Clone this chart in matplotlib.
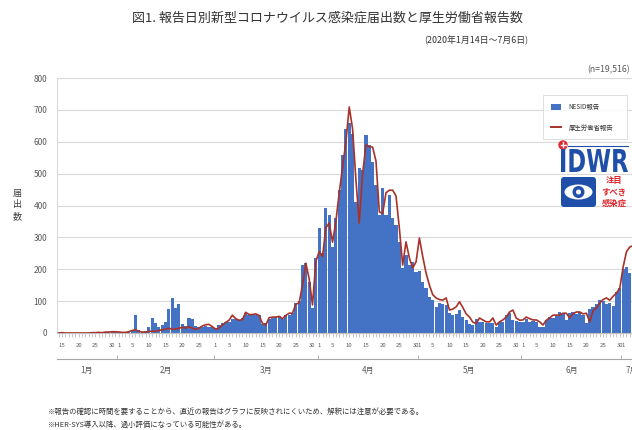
import matplotlib
matplotlib.use('Agg')
import matplotlib.pyplot as plt
import numpy as np
import pandas as pd
from matplotlib.patches import Circle, Ellipse, FancyBboxPatch, PathPatch, Rectangle
from matplotlib.textpath import TextPath
from matplotlib.font_manager import FontProperties
from matplotlib.transforms import Affine2D
from matplotlib.lines import Line2D

plt.rcParams['font.family'] = ['Noto Sans CJK JP', 'DejaVu Sans']

# ---------------- data ----------------
start_date = '2020-01-14'
end_date = '2020-07-06'

nesid_jan = [0, 1, 0, 0, 0, 0, 0, 0, 0, 0, 1, 1, 1, 0, 3, 2, 4, 3]
nesid_feb = [2, 0, 1, 3, 8, 56, 8, 3, 5, 20, 48, 30, 20, 25, 35, 75, 110, 80, 92, 28,
             22, 47, 45, 22, 20, 20, 22, 20, 18]
nesid_mar = [15, 25, 30, 35, 35, 45, 45, 40, 48, 62, 55, 60, 58, 55, 28, 30, 45, 48, 50, 52,
             45, 55, 58, 62, 95, 100, 213, 220, 160, 78, 235]
nesid_apr = [329, 250, 392, 370, 270, 360, 449, 558, 640, 660, 625, 411, 518, 511, 621, 590,
             536, 464, 370, 455, 370, 433, 360, 340, 286, 204, 244, 213, 223, 192]
nesid_may = [195, 160, 140, 113, 103, 83, 95, 90, 88, 62, 57, 60, 72, 50, 41, 28, 25, 45, 35, 35,
             30, 30, 31, 20, 35, 33, 55, 62, 40, 38, 35]
nesid_jun = [33, 45, 35, 38, 35, 20, 20, 40, 50, 48, 52, 66, 60, 40, 62, 66, 60, 66, 55, 31,
             75, 82, 90, 103, 100, 90, 95, 85, 130, 140]
nesid_jul = [200, 207, 188, 150, 90, 30]

mhlw_jan = [0, 1, 0, 0, 0, 0, 0, 0, 0, 0, 1, 1, 2, 1, 3, 3, 4, 4]
mhlw_feb = [3, 2, 2, 4, 8, 10, 5, 3, 3, 5, 6, 5, 8, 10, 12, 15, 12, 12, 15, 18,
            15, 20, 15, 12, 15, 22, 26, 27, 20]
mhlw_mar = [12, 15, 25, 33, 40, 56, 45, 40, 42, 65, 58, 58, 60, 55, 30, 25, 48, 50, 50, 52,
            45, 55, 62, 62, 90, 95, 150, 219, 170, 88, 225]
mhlw_apr = [255, 240, 330, 345, 285, 350, 440, 520, 600, 709, 640, 480, 345, 500, 590, 585,
            583, 540, 380, 375, 440, 448, 448, 430, 329, 213, 286, 235, 204, 223]
mhlw_may = [298, 240, 188, 150, 120, 110, 105, 103, 110, 72, 75, 82, 98, 80, 60, 50, 34, 30, 47, 41,
            35, 35, 47, 25, 35, 41, 50, 66, 72, 47, 40]
mhlw_jun = [41, 50, 45, 41, 41, 35, 25, 40, 47, 56, 56, 56, 62, 62, 47, 60, 66, 66, 60, 62,
            35, 70, 78, 94, 105, 110, 103, 115, 125, 141]
mhlw_jul = [207, 255, 270, 274, 206, 103]

nesid = nesid_jan + nesid_feb + nesid_mar + nesid_apr + nesid_may + nesid_jun + nesid_jul
mhlw = mhlw_jan + mhlw_feb + mhlw_mar + mhlw_apr + mhlw_may + mhlw_jun + mhlw_jul

label_days = [1, 5, 10, 15, 20, 25, 30]
month_names = ['1月', '2月', '3月', '4月', '5月', '6月', '7月']
y_ticks = [0, 100, 200, 300, 400, 500, 600, 700, 800]

title = '図1. 報告日別新型コロナウイルス感染症届出数と厚生労働省報告数'
subtitle = '(2020年1月14日～7月6日)'
n_text = '(n=19,516)'
y_label_chars = ['届', '出', '数']
legend_labels = ['NESID報告', '厚生労働省報告']
note1 = '※報告の確認に時間を要することから、直近の報告はグラフに反映されにくいため、解釈には注意が必要である。'
note2 = '※HER-SYS導入以降、過小評価になっている可能性がある。'

# ---------------- figure ----------------
W, H = 632, 430
fig = plt.figure(figsize=(W / 100, H / 100), dpi=100)
fig.patch.set_facecolor('white')

dates = pd.date_range(start_date, end_date, freq='D')
x = np.arange(len(dates))

ax_left, ax_right, ax_top, ax_bot = 57, 641.5, 78, 333
ax = fig.add_axes([ax_left / W, (H - ax_bot) / H, (ax_right - ax_left) / W, (ax_bot - ax_top) / H])

blue = '#4472C4'
red = '#A8322A'
gray_txt = '#595959'

ax.bar(x, nesid, width=0.95, color=blue, linewidth=0, zorder=2)
ax.plot(x, mhlw, color=red, lw=1.2, zorder=3)

ax.set_xlim(-0.5, len(dates) - 0.5)
ax.set_ylim(0, 800)
ax.set_yticks(y_ticks)
ax.set_yticklabels([str(v) for v in y_ticks], fontsize=6, color=gray_txt)
ax.yaxis.grid(True, color='#D9D9D9', lw=0.8)
ax.set_axisbelow(True)
ax.tick_params(axis='y', length=0, pad=7)

for s in ['top', 'right']:
    ax.spines[s].set_visible(False)
ax.spines['left'].set_color('#D9D9D9')
ax.spines['bottom'].set_color('#BFBFBF')

# day ticks
tick_idx = [i for i, d in enumerate(dates) if d.day in label_days and not (d.month == 1 and d.day < 15)]
ax.set_xticks(tick_idx)
ax.set_xticklabels([str(dates[i].day) for i in tick_idx], fontsize=4.3, color=gray_txt)
ax.set_xticks(x, minor=True)
ax.tick_params(axis='x', which='both', length=3, color='#BFBFBF', width=0.6)
ax.tick_params(axis='x', which='major', pad=4.5)

# month axis
sec = ax.secondary_xaxis(-0.1)
month_starts = [i for i, d in enumerate(dates) if d.day == 1]
bounds = [b - 0.5 for b in month_starts]
sec.set_xticks(bounds)
sec.set_xticklabels([''] * len(bounds))
all_edges = [-0.5] + bounds + [len(dates) - 0.5]
centers = [(all_edges[k] + all_edges[k + 1]) / 2 for k in range(len(all_edges) - 1)]
sec.set_xticks(centers, minor=True)
sec.set_xticklabels(month_names[:len(centers)], minor=True, fontsize=5.8, color=gray_txt)
sec.tick_params(which='major', direction='in', length=3, color='#A6A6A6', width=0.6)
sec.tick_params(which='minor', length=0, pad=5.5)
sec.spines['bottom'].set_color('#A6A6A6')
sec.spines['bottom'].set_linewidth(0.8)

# texts
fig.text(327 / W, (H - 18) / H, title, ha='center', va='center', fontsize=9.4, color='#333333')
fig.text(528 / W, (H - 40) / H, subtitle, ha='right', va='center', fontsize=6.4, color='#333333')
fig.text(587 / W, (H - 70) / H, n_text, ha='left', va='center', fontsize=6.3, color=gray_txt)
for k, ch in enumerate(y_label_chars):
    fig.text(17 / W, (H - (193 + 12 * k)) / H, ch, ha='center', va='center', fontsize=6.5,
             color='#404040')
fig.text(48 / W, (H - 412) / H, note1, ha='left', va='center', fontsize=5.3, color='#333333')
fig.text(48 / W, (H - 425) / H, note2, ha='left', va='center', fontsize=5.3, color='#333333')

# legend
handles = [Rectangle((0, 0), 1, 1, facecolor=blue, edgecolor='none'),
           Line2D([0], [0], color=red, lw=1.4)]
leg = fig.legend(handles, legend_labels, loc='upper left',
                 bbox_to_anchor=(540 / W, (H - 133) / H, 90 / W, 41 / H), mode='expand',
                 fontsize=4.6, frameon=True, fancybox=False, borderpad=1.2,
                 labelspacing=2.0, handlelength=1.6, handleheight=1.0, handletextpad=1.2)
leg.get_frame().set_edgecolor('#D0D0D0')
leg.get_frame().set_linewidth(0.6)
for t in leg.get_texts():
    t.set_color('#333333')

# IDWR logo
lg_left, lg_top, lg_w, lg_h = 558, 140, 74, 70
lax = fig.add_axes([lg_left / W, (H - lg_top - lg_h) / H, lg_w / W, lg_h / H])
lax.set_xlim(0, lg_w)
lax.set_ylim(0, lg_h)
lax.axis('off')
logo_blue = '#1F4FA8'
logo_red = '#E0262B'
lax.add_patch(Circle((5, 65), 4, color=logo_red))
lax.plot([5, 5], [62.5, 67.5], color='white', lw=1.0)
lax.plot([2.5, 7.5], [65, 65], color='white', lw=1.0)
lax.plot([10, 70], [63.5, 63.5], color=logo_blue, lw=0.8)
tp = TextPath((0, 0), 'IDWR', prop=FontProperties(family='DejaVu Sans', weight='bold'))
ext = tp.get_extents()
sx = (70 - 3) / ext.width
sy = (61 - 38) / ext.height
tr = Affine2D().translate(-ext.x0, -ext.y0).scale(sx, sy).translate(3, 38)
lax.add_patch(PathPatch(tr.transform_path(tp), facecolor=logo_blue, edgecolor='none'))
lax.add_patch(FancyBboxPatch((3, 3), 35, 30, boxstyle='round,pad=0,rounding_size=3',
                             facecolor=logo_blue, edgecolor='none'))
lax.add_patch(Ellipse((20.5, 18), 28, 15, facecolor='white', edgecolor='none'))
lax.add_patch(Circle((20.5, 18), 6, facecolor=logo_blue, edgecolor='none'))
lax.add_patch(Circle((20.5, 18), 2.5, facecolor='white', edgecolor='none'))
for txt, yy in [('注目', 29), ('すべき', 18), ('感染症', 7)]:
    lax.text(56, yy, txt, ha='center', va='center', fontsize=6.0, color=logo_red,
             fontweight='bold')

fig.savefig('out.png', dpi=100, facecolor='white')
